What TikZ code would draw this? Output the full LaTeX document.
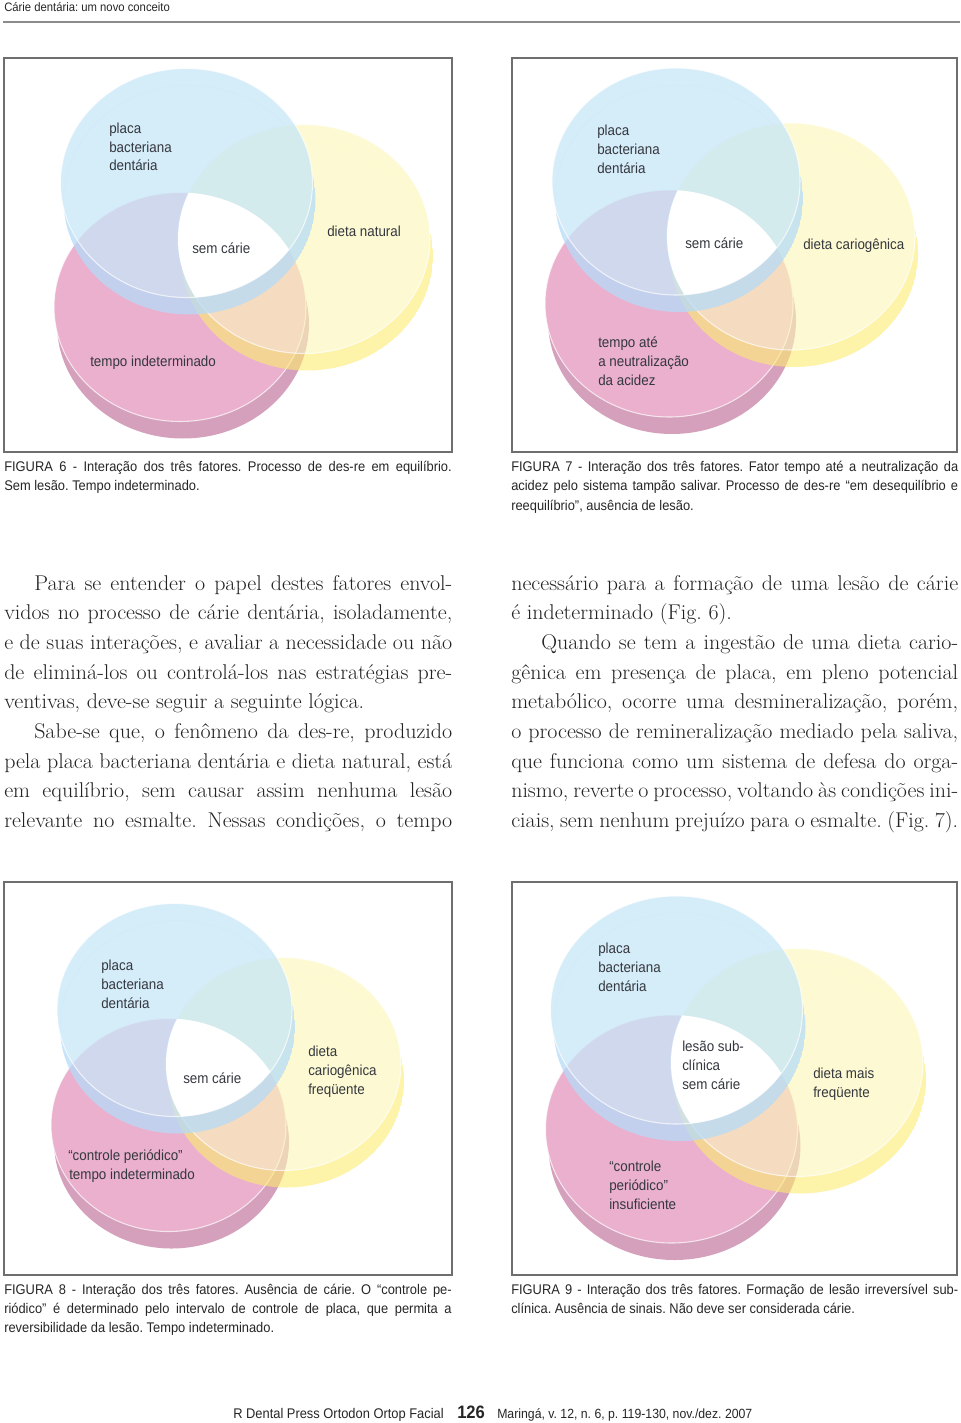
\documentclass[tikz,border=0pt]{standalone}
\usepackage{fontspec}
\newfontfamily\condf[FakeStretch=0.92]{Liberation Sans}
\newfontfamily\bodyf[FakeStretch=1.03]{Latin Modern Roman}
\definecolor{pinkface}{RGB}{234,176,206}
\definecolor{pinkrim}{RGB}{212,160,188}
\definecolor{yellowface}{RGB}{253,248,182}
\definecolor{yellowrim}{RGB}{252,236,112}
\definecolor{blueface}{RGB}{199,230,248}
\definecolor{bluerim}{RGB}{181,220,248}
\definecolor{framec}{RGB}{110,110,110}
\definecolor{labc}{RGB}{52,55,62}
\definecolor{capc}{RGB}{38,38,38}
\definecolor{bodyc}{RGB}{34,34,34}
\tikzset{
  labtext/.style={font=\condf\fontsize{10.9}{13}\selectfont, text=labc, inner sep=0pt, anchor=base west},
  captext/.style={font=\condf\fontsize{10.5}{12}\selectfont, text=capc, inner sep=0pt, anchor=base west},
  bodytext/.style={font=\bodyf\fontsize{16}{18}\selectfont, text=bodyc, inner sep=0pt, anchor=base west},
  figframe/.style={draw=framec, line width=1.5pt},
  faceedge/.style={draw=white, line width=0.8pt, draw opacity=0.7},
}
% #1 #2 blue centre, #3 #4 pink centre, #5 #6 yellow centre, #7 rx, #8 ry
\newcommand\vennfig[8]{%
  \fill[pinkrim] (#3+3,#4+17) ellipse [x radius=#7, y radius=#8];
  \fill[pinkface] (#3,#4) ellipse [x radius=#7, y radius=#8];
  \draw[faceedge] (#3,#4) ellipse [x radius=#7, y radius=#8];
  \begin{scope}[fill opacity=0.6]
    \begin{scope}
      \clip (#5+3,#6+17) ellipse [x radius=#7, y radius=#8];
      \fill[yellowrim, even odd rule] (#5+3,#6+17) ellipse [x radius=#7, y radius=#8] (#5,#6) ellipse [x radius=#7, y radius=#8];
    \end{scope}
    \fill[yellowface] (#5,#6) ellipse [x radius=#7, y radius=#8];
  \end{scope}
  \draw[faceedge] (#5,#6) ellipse [x radius=#7, y radius=#8];
  \begin{scope}[fill opacity=0.75]
    \begin{scope}
      \clip (#1+3,#2+17) ellipse [x radius=#7, y radius=#8];
      \fill[bluerim, even odd rule] (#1+3,#2+17) ellipse [x radius=#7, y radius=#8] (#1,#2) ellipse [x radius=#7, y radius=#8];
    \end{scope}
    \fill[blueface] (#1,#2) ellipse [x radius=#7, y radius=#8];
  \end{scope}
  \draw[faceedge] (#1,#2) ellipse [x radius=#7, y radius=#8];
  \begin{scope}
    \clip (#1,#2) ellipse [x radius=#7, y radius=#8];
    \clip (#3,#4) ellipse [x radius=#7, y radius=#8];
    \clip (#5,#6) ellipse [x radius=#7, y radius=#8];
    \fill[white] (#1,#2) ellipse [x radius=#7, y radius=#8];
  \end{scope}
}
\frenchspacing
\begin{document}
\begin{tikzpicture}[x=0.75pt, y=-0.75pt]
\useasboundingbox (0,0) rectangle (960,1423);
\fill[white] (0,0) rectangle (960,1423);

% header
\node[captext, font=\condf\fontsize{9.2}{11}\selectfont] (head) at (4,11.5) {Cárie dentária: um novo conceito};
\coordinate (ruleL) at (3,22);
\coordinate (ruleR) at (960,22);
\draw[draw=framec!80, line width=0.8pt] (ruleL) -- (ruleR);

% frames
\draw[figframe] (4,58.5) rectangle (451.5,451.5);
\draw[figframe] (511.5,58.5) rectangle (957,451.5);
\draw[figframe] (4,881.5) rectangle (451.5,1275);
\draw[figframe] (511.5,881.5) rectangle (957,1275);

% Venn diagrams
\vennfig{186.5}{183}{180}{307}{304}{239}{126}{114.5}
\vennfig{676}{181.5}{669}{303.5}{791}{236.5}{124}{113.5}
\vennfig{174.5}{1010}{168.5}{1125}{283.5}{1064}{117.5}{106.5}
\vennfig{676.5}{1010}{671.5}{1129}{797}{1062.5}{126}{114}

% Figure 6 labels
\node[labtext] (f6a) at (109,134) {placa};
\node[labtext] (f6b) at (109,152.5) {bacteriana};
\node[labtext] (f6c) at (109,171) {dentária};
\node[labtext] (f6d) at (192,253) {sem cárie};
\node[labtext] (f6e) at (327,237) {dieta natural};
\node[labtext] (f6f) at (90,366) {tempo indeterminado};

% Figure 7 labels
\node[labtext] (f7a) at (597,136) {placa};
\node[labtext] (f7b) at (597,155) {bacteriana};
\node[labtext] (f7c) at (597,174) {dentária};
\node[labtext] (f7d) at (685,248) {sem cárie};
\node[labtext] (f7e) at (803,250) {dieta cariogênica};
\node[labtext] (f7f) at (598,347) {tempo até};
\node[labtext] (f7g) at (598,366) {a neutralização};
\node[labtext] (f7h) at (598,385) {da acidez};

% Figure 8 labels
\node[labtext] (f8a) at (101,970) {placa};
\node[labtext] (f8b) at (101,989) {bacteriana};
\node[labtext] (f8c) at (101,1008) {dentária};
\node[labtext] (f8d) at (183,1083) {sem cárie};
\node[labtext] (f8e) at (308,1056) {dieta};
\node[labtext] (f8f) at (308,1075) {cariogênica};
\node[labtext] (f8g) at (308,1094) {freqüente};
\node[labtext] (f8h) at (68,1160) {“controle periódico”};
\node[labtext] (f8i) at (69,1179) {tempo indeterminado};

% Figure 9 labels
\node[labtext] (f9a) at (598,953) {placa};
\node[labtext] (f9b) at (598,972) {bacteriana};
\node[labtext] (f9c) at (598,991) {dentária};
\node[labtext] (f9d) at (682,1051) {lesão sub-};
\node[labtext] (f9e) at (682,1070) {clínica};
\node[labtext] (f9f) at (682,1089) {sem cárie};
\node[labtext] (f9g) at (813,1078) {dieta mais};
\node[labtext] (f9h) at (813,1097) {freqüente};
\node[labtext] (f9i) at (609,1171) {“controle};
\node[labtext] (f9j) at (609,1190) {periódico”};
\node[labtext] (f9k) at (609,1209) {insuficiente};

% captions
\node[captext] (c6a) at (4,471) {\makebox[335.6pt][s]{FIGURA 6 - Interação dos três fatores. Processo de des-re em equilíbrio.}};
\node[captext] (c6b) at (4,490.5) {Sem lesão. Tempo indeterminado.};
\node[captext] (c7a) at (511,471) {\makebox[335.2pt][s]{FIGURA 7 - Interação dos três fatores. Fator tempo até a neutralização da}};
\node[captext] (c7b) at (511,490.5) {\makebox[335.2pt][s]{acidez pelo sistema tampão salivar. Processo de des-re “em desequilíbrio e}};
\node[captext] (c7c) at (511,510) {reequilíbrio”, ausência de lesão.};
\node[captext] (c8a) at (4,1294) {\makebox[335.6pt][s]{FIGURA 8 - Interação dos três fatores. Ausência de cárie. O “controle pe-}};
\node[captext] (c8b) at (4,1313) {\makebox[335.6pt][s]{riódico” é determinado pelo intervalo de controle de placa, que permita a}};
\node[captext] (c8c) at (4,1332) {reversibilidade da lesão. Tempo indeterminado.};
\node[captext] (c9a) at (511,1294) {\makebox[335.2pt][s]{FIGURA 9 - Interação dos três fatores. Formação de lesão irreversível sub-}};
\node[captext] (c9b) at (511,1313) {clínica. Ausência de sinais. Não deve ser considerada cárie.};

% body text, left column
\node[bodytext] (L1) at (34,590) {\makebox[313.5pt][s]{Para se entender o papel destes fatores envol-}};
\node[bodytext] (L2) at (4,619.7) {\makebox[336pt][s]{vidos no processo de cárie dentária, isoladamente,}};
\node[bodytext] (L3) at (4,649.4) {\makebox[336pt][s]{e de suas interações, e avaliar a necessidade ou não}};
\node[bodytext] (L4) at (4,679.1) {\makebox[336pt][s]{de eliminá-los ou controlá-los nas estratégias pre-}};
\node[bodytext] (L5) at (4,708.8) {ventivas, deve-se seguir a seguinte lógica.};
\node[bodytext] (L6) at (34,738.5) {\makebox[313.5pt][s]{Sabe-se que, o fenômeno da des-re, produzido}};
\node[bodytext] (L7) at (4,768.2) {\makebox[336pt][s]{pela placa bacteriana dentária e dieta natural, está}};
\node[bodytext] (L8) at (4,797.9) {\makebox[336pt][s]{em equilíbrio, sem causar assim nenhuma lesão}};
\node[bodytext] (L9) at (4,827.6) {\makebox[336pt][s]{relevante no esmalte. Nessas condições, o tempo}};

% body text, right column
\node[bodytext] (R1) at (511,590) {\makebox[335.2pt][s]{necessário para a formação de uma lesão de cárie}};
\node[bodytext] (R2) at (511,619.7) {é indeterminado (Fig. 6).};
\node[bodytext] (R3) at (541,649.4) {\makebox[312.7pt][s]{Quando se tem a ingestão de uma dieta cario-}};
\node[bodytext] (R4) at (511,679.1) {\makebox[335.2pt][s]{gênica em presença de placa, em pleno potencial}};
\node[bodytext] (R5) at (511,708.8) {\makebox[335.2pt][s]{metabólico, ocorre uma desmineralização, porém,}};
\node[bodytext] (R6) at (511,738.5) {\makebox[335.2pt][s]{o processo de remineralização mediado pela saliva,}};
\node[bodytext] (R7) at (511,768.2) {\makebox[335.2pt][s]{que funciona como um sistema de defesa do orga-}};
\node[bodytext] (R8) at (511,797.9) {\makebox[335.2pt][s]{nismo, reverte o processo, voltando às condições ini-}};
\node[bodytext] (R9) at (511,827.6) {\makebox[335.2pt][s]{ciais, sem nenhum prejuízo para o esmalte. (Fig. 7).}};

% footer
\node[captext] (foot1) at (233,1418.5) {R Dental Press Ortodon Ortop Facial};
\node[captext, font=\condf\bfseries\fontsize{13.5}{15}\selectfont] (foot2) at (457,1418.5) {126};
\node[captext, font=\condf\fontsize{10}{12}\selectfont] (foot3) at (497,1418.5) {Maringá, v. 12, n. 6, p. 119-130, nov./dez. 2007};
\end{tikzpicture}
\end{document}
